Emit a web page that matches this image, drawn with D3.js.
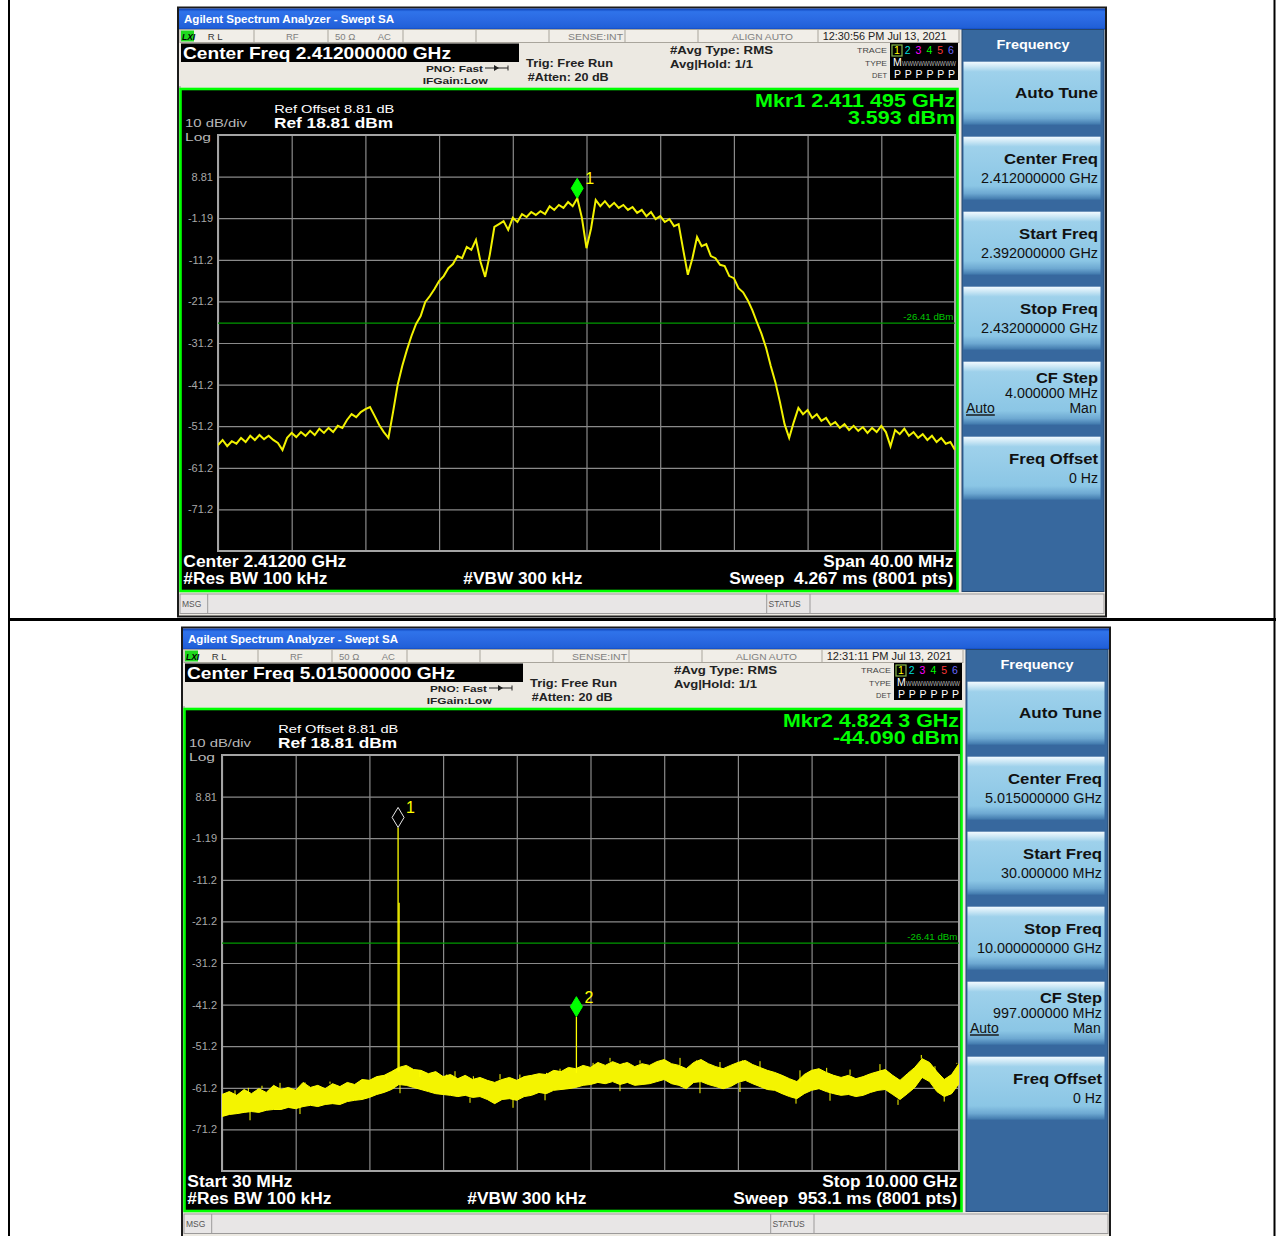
<!DOCTYPE html>
<html>
<head>
<meta charset="utf-8">
<script src="https://cdn.jsdelivr.net/npm/d3@7"></script>
<style>
  html, body { margin: 0; padding: 0; background: #fff; }
  svg { display: block; font-family: "Liberation Sans", Arial, sans-serif; }
  svg text { white-space: pre; }
</style>
</head>
<body>
<svg id="chart" width="1276" height="1236"></svg>
<script>
// ---------------------------------------------------------------
// data read off the two analyzer screens
// ---------------------------------------------------------------

// graticule: 10 dB/div, top line is the reference level
const refLevel = 18.81;
const dbPerDiv = 10;
const displayLine = -26.41;
const yTickLabels = ['8.81', '-1.19', '-11.2', '-21.2', '-31.2', '-41.2', '-51.2', '-61.2', '-71.2'];

// screen 1 : 2392 .. 2432 MHz, one reading every 0.25 MHz (dBm)
const p1Span = [2392, 2432];
const p1Step = 0.25;
const p1Level = [
  -55.7, -54.5, -56.0, -54.8, -55.4, -54.0, -55.0, -53.5, -54.5, -53.3,
  -54.3, -53.5, -54.5, -55.2, -56.9, -54.0, -52.8, -53.8, -52.6, -53.5,
  -52.3, -53.3, -51.8, -52.8, -51.6, -52.6, -51.1, -51.6, -49.7, -48.3,
  -49.0, -47.8, -47.1, -46.6, -48.7, -50.9, -52.6, -54.0, -47.8, -41.3,
  -36.7, -32.9, -29.5, -26.6, -24.7, -21.3, -19.9, -18.2, -16.3, -15.1,
  -13.2, -12.2, -10.3, -10.8, -8.1, -8.8, -6.4, -11.7, -15.3, -10.0,
  -3.3, -2.6, -1.9, -4.0, -1.1, -2.1, -0.2, -0.9, 0.3, -0.4,
  0.5, -0.2, 1.7, 0.8, 2.0, 1.3, 2.7, 1.7, 3.6, -1.1,
  -8.4, -3.6, 3.2, 1.7, 2.9, 1.5, 2.5, 1.3, 2.0, 0.8,
  1.5, 0.1, 0.8, -0.7, 0.3, -1.4, -0.7, -2.1, -1.4, -3.1,
  -2.6, -8.8, -14.8, -10.8, -5.7, -7.9, -7.4, -10.3, -10.8, -12.4,
  -12.7, -15.1, -15.6, -18.0, -19.0, -20.9, -23.3, -26.2, -29.0, -32.4,
  -36.7, -40.6, -45.4, -50.7, -54.0, -50.2, -46.8, -48.3, -47.3, -49.2,
  -48.3, -49.9, -49.2, -50.9, -50.2, -51.6, -50.7, -52.1, -51.1, -52.3,
  -51.4, -52.8, -51.6, -52.6, -51.1, -52.6, -56.0, -52.1, -53.1, -51.8,
  -53.5, -52.6, -54.0, -53.1, -54.5, -53.5, -55.0, -54.0, -55.4, -55.0,
  -56.9
];
const p1MarkerFreq = [2411.495];
const p1MarkerLevel = [3.593];

// screen 2 : 0.03 .. 10 GHz, 101 readings of the noise band (top / bottom edge, dBm)
const p2Span = [0.03, 10.0];
const p2Upper = [
  -62.8, -62.1, -63.0, -61.6, -62.6, -61.4, -62.3, -60.6, -61.6, -61.1,
  -61.8, -59.9, -61.1, -60.6, -61.4, -60.2, -60.9, -59.9, -60.4, -59.2,
  -59.4, -58.5, -58.2, -57.3, -56.3, -55.8, -56.8, -57.0, -57.8, -57.3,
  -58.5, -58.0, -59.0, -58.2, -59.2, -58.7, -59.4, -59.9, -59.2, -58.7,
  -59.4, -58.5, -58.2, -57.8, -58.0, -57.0, -57.3, -56.3, -56.6, -55.8,
  -56.3, -55.1, -55.8, -54.9, -55.6, -55.1, -56.1, -55.4, -55.8, -54.9,
  -54.4, -55.4, -55.8, -56.6, -55.1, -54.4, -55.4, -56.1, -56.6, -55.8,
  -55.1, -54.6, -55.6, -56.3, -57.0, -57.5, -58.2, -59.0, -59.7, -58.0,
  -57.0, -56.6, -57.5, -58.2, -58.7, -58.2, -59.0, -58.5, -57.8, -57.3,
  -56.8, -58.2, -59.4, -57.8, -56.3, -54.2, -55.1, -57.3, -59.2, -58.0,
  -55.4
];
const p2Lower = [
  -68.1, -67.6, -67.4, -67.1, -66.9, -67.1, -66.6, -66.4, -66.4, -65.9,
  -66.2, -65.7, -65.4, -65.7, -65.2, -65.0, -65.2, -64.5, -64.2, -64.0,
  -63.5, -62.8, -62.3, -61.6, -60.4, -60.6, -61.1, -61.6, -62.1, -62.6,
  -62.8, -63.0, -63.3, -63.0, -63.5, -63.3, -64.0, -65.0, -64.0, -63.8,
  -64.2, -63.3, -63.0, -62.3, -62.6, -61.8, -61.6, -61.4, -61.1, -60.6,
  -60.4, -59.9, -60.2, -59.7, -60.4, -59.9, -60.6, -60.4, -60.2, -59.7,
  -59.2, -60.2, -60.6, -61.4, -59.9, -59.7, -60.4, -60.9, -61.4, -60.9,
  -59.9, -59.4, -60.2, -60.9, -61.6, -61.8, -62.6, -63.3, -63.8, -62.6,
  -61.8, -61.4, -62.1, -62.6, -63.0, -62.8, -63.3, -63.0, -62.3, -61.8,
  -61.6, -62.8, -64.0, -62.6, -61.1, -58.7, -59.7, -62.1, -63.3, -62.6,
  -60.2
];
// noise hairs poking out above the band (GHz, dBm)
const p2HairFreq = [0.206, 0.386, 0.571, 0.815, 1.153, 1.491, 1.694, 1.965, 2.258, 2.708, 3.07, 3.182,
  3.43, 3.791, 4.06, 4.42, 4.603, 5.05, 5.279, 5.46, 5.685, 6.00, 6.226, 6.45, 6.767, 7.07, 7.308,
  7.849, 8.21, 8.526, 8.931, 9.49, 9.675, 9.97];
const p2HairLevel = [-61.8, -61.2, -60.7, -60.0, -60.4, -59.7, -59.9, -59.2, -59.2, -58.6, -58.0, -57.2,
  -58.4, -57.9, -58.0, -57.6, -56.6, -55.2, -54.0, -55.2, -54.6, -54.4, -54.0, -54.6, -55.0, -55.2, -54.8,
  -57.0, -56.4, -56.8, -55.5, -53.3, -56.0, -55.2];
// noise hairs hanging below the band
const p2DipFreq = [0.409, 1.085, 2.438, 3.385, 3.967, 4.40, 5.414, 6.496, 7.037, 7.795, 8.255, 9.175, 9.80];
const p2DipLevel = [-69.0, -67.5, -62.5, -64.8, -66.0, -64.2, -62.0, -62.5, -62.2, -65.0, -64.3, -65.3, -64.5];
// discrete spurs (GHz, dBm)
const p2SpurFreq = [2.412, 2.4255, 4.8243];
const p2SpurLevel = [1.4, -16.7, -44.09];
const p2MarkerFreq = [2.412, 4.8243];
const p2MarkerLevel = [1.4, -44.09];

// annotation text of each screen
const p1Time = '12:30:56 PM Jul 13, 2021';
const p2Time = '12:31:11 PM Jul 13, 2021';
const p1Center = 'Center Freq 2.412000000 GHz';
const p2Center = 'Center Freq 5.015000000 GHz';
const p1Readout = ['Mkr1 2.411 495 GHz', '3.593 dBm'];
const p2Readout = ['Mkr2 4.824 3 GHz', '-44.090 dBm'];
const p1Footer = ['Center 2.41200 GHz', 'Span 40.00 MHz', 'Sweep  4.267 ms (8001 pts)'];
const p2Footer = ['Start 30 MHz', 'Stop 10.000 GHz', 'Sweep  953.1 ms (8001 pts)'];
const p1Keys = [['Auto Tune'], ['Center Freq', '2.412000000 GHz'], ['Start Freq', '2.392000000 GHz'],
  ['Stop Freq', '2.432000000 GHz'], ['CF Step', '4.000000 MHz'], ['Freq Offset', '0 Hz']];
const p2Keys = [['Auto Tune'], ['Center Freq', '5.015000000 GHz'], ['Start Freq', '30.000000 MHz'],
  ['Stop Freq', '10.000000000 GHz'], ['CF Step', '997.000000 MHz'], ['Freq Offset', '0 Hz']];

// ---------------------------------------------------------------
// drawing
// ---------------------------------------------------------------

// the screenshots are stretched sideways, so most strings get a fixed width
const textWidth = new Map([
  ['Agilent Spectrum Analyzer - Swept SA', 210],
  ['Center Freq 2.412000000 GHz', 268], ['Center Freq 5.015000000 GHz', 268],
  ['12:30:56 PM Jul 13, 2021', 124], ['12:31:11 PM Jul 13, 2021', 125],
  ['Mkr1 2.411 495 GHz', 200], ['3.593 dBm', 107], ['Mkr2 4.824 3 GHz', 176], ['-44.090 dBm', 126],
  ['Center 2.41200 GHz', 163], ['Span 40.00 MHz', 130], ['Start 30 MHz', 105], ['Stop 10.000 GHz', 135],
  ['Sweep  4.267 ms (8001 pts)', 224], ['Sweep  953.1 ms (8001 pts)', 224],
  ['#Res BW 100 kHz', 144], ['#VBW 300 kHz', 119],
  ['Ref Offset 8.81 dB', 120], ['Ref 18.81 dBm', 119], ['10 dB/div', 62], ['Log', 26],
  ['PNO: Fast', 57], ['IFGain:Low', 65], ['Trig: Free Run', 87], ['#Atten: 20 dB', 81],
  ['#Avg Type: RMS', 103], ['Avg|Hold: 1/1', 83], ['SENSE:INT', 55], ['ALIGN AUTO', 61],
  ['Frequency', 73], ['Auto Tune', 83], ['Center Freq', 94], ['Start Freq', 79], ['Stop Freq', 78],
  ['CF Step', 62], ['Freq Offset', 89],
  ['2.412000000 GHz', 117], ['2.392000000 GHz', 117], ['2.432000000 GHz', 117], ['4.000000 MHz', 93],
  ['0 Hz', 29], ['5.015000000 GHz', 117], ['30.000000 MHz', 101], ['10.000000000 GHz', 125],
  ['997.000000 MHz', 109], ['-26.41 dBm', 50], ['TRACE', 30], ['TYPE', 22], ['DET', 15],
]);

const svg = d3.select('#chart');
const defs = svg.append('defs');

function gradient(id, stops) {
  const lg = defs.append('linearGradient').attr('id', id)
    .attr('x1', 0).attr('y1', 0).attr('x2', 0).attr('y2', 1);
  stops.forEach(([o, c]) => lg.append('stop').attr('offset', o).attr('stop-color', c));
}
gradient('titleGrad', [[0, '#0b3fb6'], [0.15, '#2f73ea'], [0.55, '#2a69e2'], [0.9, '#2160d8'], [1, '#0e47c0']]);
gradient('keyGrad', [[0, '#f2faff'], [0.07, '#cfe9f6'], [0.16, '#9ed1eb'], [0.78, '#8bc6e5'], [0.9, '#6ea9d2'], [1, '#3f77ab']]);

// put a string, squeezed to the measured width when we have one
function put(g, str, x, y, o = {}) {
  const t = g.append('text')
    .attr('x', x).attr('y', y)
    .attr('font-size', o.size || 11)
    .attr('font-weight', o.bold ? 'bold' : 'normal')
    .attr('fill', o.fill || '#000')
    .attr('text-anchor', o.anchor || 'start')
    .text(str);
  const w = textWidth.get(str);
  if (w) t.attr('textLength', w).attr('lengthAdjust', 'spacingAndGlyphs');
  return t;
}

function rect(g, x, y, w, h, fill, stroke, sw) {
  return g.append('rect').attr('x', x).attr('y', y).attr('width', w).attr('height', h)
    .attr('fill', fill).attr('stroke', stroke || 'none').attr('stroke-width', sw || 1);
}

function vline(g, x, y1, y2, c, w) {
  g.append('line').attr('x1', x).attr('x2', x).attr('y1', y1).attr('y2', y2)
    .attr('stroke', c).attr('stroke-width', w || 1);
}

// plot box inside each screen (local coordinates)
const PL = 40, PR = 777, PT = 127.5, PB = 543.5;

function drawScreen(cfg) {
  const g = svg.append('g').attr('transform', `translate(${cfg.ox},${cfg.oy})`);

  // window frame + title bar
  rect(g, 0, 0, 928, cfg.h, '#ece9e2', '#1b1b1b', 2);
  rect(g, 1, 1, 926, 21, 'url(#titleGrad)');
  put(g, 'Agilent Spectrum Analyzer - Swept SA', 6, 15, { size: 10.5, bold: true, fill: '#fff' });

  // status row
  rect(g, 2, 22, 779, 13, '#f1eee8', '#a9a59c', 1);
  [76, 150, 225, 298, 371, 447, 520, 640].forEach(x => vline(g, x, 22, 35, '#a9a59c'));
  rect(g, 3, 23, 13, 11, '#1ed81e');
  put(g, 'LXI', 4, 32, { size: 8.5, bold: true }).attr('font-style', 'italic');
  put(g, 'R L', 29.7, 32, { size: 9.5, fill: '#333' });
  put(g, 'RF', 108, 32, { size: 9.5, fill: '#808080' });
  put(g, '50 \u03A9', 157, 32, { size: 9.5, fill: '#808080' });
  put(g, 'AC', 199.7, 32, { size: 9.5, fill: '#808080' });
  put(g, 'SENSE:INT', 445, 32, { size: 9.5, fill: '#808080', anchor: 'end' });
  put(g, 'ALIGN AUTO', 615, 32, { size: 9.5, fill: '#808080', anchor: 'end' });
  put(g, cfg.time, 644.7, 32, { size: 10, fill: '#222' });

  // centre frequency banner and setup info
  rect(g, 3, 36, 338, 18.5, '#000');
  put(g, cfg.center, 5, 51, { size: 16.5, bold: true, fill: '#fff' });
  put(g, 'PNO: Fast', 248, 64, { size: 9.5, bold: true, fill: '#222' });
  g.append('line').attr('x1', 307).attr('x2', 330).attr('y1', 60.5).attr('y2', 60.5).attr('stroke', '#222');
  g.append('path').attr('d', 'M316,57.5 L321,60.5 L316,63.5 Z').attr('fill', '#222');
  vline(g, 330, 58, 63, '#222');
  put(g, 'IFGain:Low', 244.7, 76.5, { size: 9.5, bold: true, fill: '#222' });
  put(g, 'Trig: Free Run', 348, 59.5, { size: 11.5, bold: true, fill: '#222' });
  put(g, '#Atten: 20 dB', 349.7, 73.5, { size: 11.5, bold: true, fill: '#222' });
  put(g, '#Avg Type: RMS', 492, 46.5, { size: 11.5, bold: true, fill: '#222' });
  put(g, 'Avg|Hold: 1/1', 492, 60, { size: 11.5, bold: true, fill: '#222' });

  // trace legend box
  put(g, 'TRACE', 709, 45.5, { size: 8, fill: '#444', anchor: 'end' });
  put(g, 'TYPE', 709, 58, { size: 8, fill: '#444', anchor: 'end' });
  put(g, 'DET', 709, 70.5, { size: 8, fill: '#444', anchor: 'end' });
  rect(g, 712, 35.5, 68, 37, '#000');
  rect(g, 714, 37.5, 10, 11, 'none', '#86b84a', 1.2);
  const traceColors = ['#ffff00', '#00dede', '#ff00ff', '#00ff00', '#ff3838', '#6a6aff'];
  traceColors.forEach((c, i) => {
    put(g, String(i + 1), 716 + i * 10.8, 46.5, { size: 10.5, fill: c });
    put(g, 'P', 716 + i * 10.8, 70.5, { size: 10.5, fill: '#fff' });
  });
  put(g, 'M', 715, 58.5, { size: 10.5, fill: '#fff' });
  g.append('text').attr('x', 724).attr('y', 58).attr('font-size', 7).attr('fill', '#b8b8b8')
    .attr('textLength', 54).attr('lengthAdjust', 'spacingAndGlyphs').text('WWWWWWWWWW');

  // instrument screen
  vline(g, 2, 78.5, 80.5, '#999');
  rect(g, 2.5, 81.5, 777, 502, '#000', '#00ff00', 2.6);

  put(g, '10 dB/div', 7, 119.5, { size: 11.5, fill: '#b8b8b8' });
  put(g, 'Log', 7, 133, { size: 11.5, fill: '#b8b8b8' });
  put(g, 'Ref Offset 8.81 dB', 96.3, 105.5, { size: 11.5, fill: '#fff' });
  put(g, 'Ref 18.81 dBm', 96, 120, { size: 14, bold: true, fill: '#fff' });
  put(g, cfg.readout[0], 777, 99, { size: 17.5, bold: true, fill: '#00ff00', anchor: 'end' });
  put(g, cfg.readout[1], 777, 116.5, { size: 17.5, bold: true, fill: '#00ff00', anchor: 'end' });

  const x = d3.scaleLinear().domain(cfg.span).range([PL, PR]);
  const y = d3.scaleLinear().domain([refLevel - 10 * dbPerDiv, refLevel]).range([PB, PT]);

  // graticule
  const xDivs = d3.range(11).map(k => cfg.span[0] + k * (cfg.span[1] - cfg.span[0]) / 10);
  const yDivs = d3.range(11).map(k => refLevel - k * dbPerDiv);
  g.append('g').attr('transform', `translate(0,${PB})`)
    .call(d3.axisBottom(x).tickValues(xDivs).tickSize(-(PB - PT)).tickFormat(''))
    .call(a => {
      a.select('.domain').remove();
      a.selectAll('line').attr('stroke', '#8a8a8a').attr('stroke-width', 1.2);
    });
  g.append('g').attr('transform', `translate(${PL},0)`)
    .call(d3.axisLeft(y).tickValues(yDivs).tickSize(-(PR - PL)).tickPadding(5)
      .tickFormat((d, i) => (i > 0 && i < 10 ? yTickLabels[i - 1] : '')))
    .call(a => {
      a.select('.domain').remove();
      a.attr('font-family', null).attr('font-size', 11);
      a.selectAll('line').attr('stroke', '#8a8a8a').attr('stroke-width', 1.2);
      a.selectAll('text').attr('fill', '#a8a8a8');
    });
  rect(g, PL, PT, PR - PL, PB - PT, 'none', '#a4a4a4', 2);

  // display line
  g.append('line').attr('x1', PL).attr('x2', PR).attr('y1', y(displayLine)).attr('y2', y(displayLine))
    .attr('stroke', '#009a00').attr('stroke-width', 1.1);
  put(g, '-26.41 dBm', 775.3, y(displayLine) - 3, { size: 9, fill: '#00c800', anchor: 'end' });

  // footer annotations
  put(g, cfg.footer[0], 5.3, 559, { size: 16, bold: true, fill: '#fff' });
  put(g, '#Res BW 100 kHz', 5.3, 576.5, { size: 16, bold: true, fill: '#fff' });
  put(g, '#VBW 300 kHz', 285.3, 576.5, { size: 16, bold: true, fill: '#fff' });
  put(g, cfg.footer[1], 775.3, 559, { size: 16, bold: true, fill: '#fff', anchor: 'end' });
  put(g, cfg.footer[2], 775.3, 576.5, { size: 16, bold: true, fill: '#fff', anchor: 'end' });

  // message bar
  rect(g, 2, 586.5, 924, 19.5, '#e8e6e6', '#9c9a9a', 1);
  vline(g, 29.7, 586.5, 606, '#9c9a9a');
  vline(g, 588.7, 586.5, 606, '#9c9a9a');
  vline(g, 632, 586.5, 606, '#9c9a9a');
  put(g, 'MSG', 4, 599.5, { size: 8.5, fill: '#555' });
  put(g, 'STATUS', 590.5, 599.5, { size: 8.5, fill: '#555' });

  // soft key panel
  rect(g, 784, 22, 142, 562, '#37689e', '#24466e', 1);
  put(g, 'Frequency', 855, 41.5, { size: 13, bold: true, fill: '#fff', anchor: 'middle' });
  cfg.keys.forEach((k, i) => {
    const top = 54.2 + i * 75;
    rect(g, 785.5, top, 137, 63, 'url(#keyGrad)');
    if (k.length === 1) {
      put(g, k[0], 920, top + 36, { size: 15, bold: true, fill: '#111', anchor: 'end' });
    } else if (k[0] === 'CF Step') {
      put(g, k[0], 920, top + 21.6, { size: 15, bold: true, fill: '#111', anchor: 'end' });
      put(g, k[1], 920, top + 36.6, { size: 14, fill: '#111', anchor: 'end' });
      put(g, 'Auto', 788, top + 51.6, { size: 14, fill: '#111' }).attr('text-decoration', 'underline');
      put(g, 'Man', 918.7, top + 51.6, { size: 14, fill: '#111', anchor: 'end' });
    } else {
      put(g, k[0], 920, top + 27, { size: 15, bold: true, fill: '#111', anchor: 'end' });
      put(g, k[1], 920, top + 46.3, { size: 14, fill: '#111', anchor: 'end' });
    }
  });

  // trace layer, clipped to the graticule
  const clipId = `clip${cfg.id}`;
  defs.append('clipPath').attr('id', clipId).append('rect')
    .attr('x', PL).attr('y', PT).attr('width', PR - PL).attr('height', PB - PT);
  const layer = g.append('g').attr('clip-path', `url(#${clipId})`);
  cfg.drawTrace(layer, x, y);

  // markers: diamond sits on the trace, number to its upper right
  cfg.markers.forEach(m => {
    const mx = x(m.freq), my = y(m.level);
    g.append('path').attr('d', `M${mx},${my} L${mx - 6},${my - 10} L${mx},${my - 20} L${mx + 6},${my - 10} Z`)
      .attr('fill', m.active ? '#00ff00' : '#000')
      .attr('stroke', m.active ? '#00ff00' : '#e8e8e8').attr('stroke-width', 1);
    put(g, String(m.n), mx + 8, my - 14, { size: 16, fill: '#ffff00' });
  });
}

// ---------------------------------------------------------------
// page: two table cells, one screenshot in each
// ---------------------------------------------------------------
drawScreen({
  id: 1, ox: 178, oy: 7.5, h: 609,
  time: p1Time, center: p1Center, readout: p1Readout, footer: p1Footer, keys: p1Keys,
  span: p1Span,
  markers: p1MarkerFreq.map((f, i) => ({ n: 1, freq: f, level: p1MarkerLevel[i], active: true })),
  drawTrace(layer, x, y) {
    const pts = p1Level.map((v, i) => [p1Span[0] + i * p1Step, v]);
    layer.append('path').datum(pts)
      .attr('d', d3.line().x(d => x(d[0])).y(d => y(d[1])))
      .attr('fill', 'none').attr('stroke', '#f2f200').attr('stroke-width', 2)
      .attr('stroke-linejoin', 'miter');
  },
});

drawScreen({
  id: 2, ox: 182, oy: 627.5, h: 620,
  time: p2Time, center: p2Center, readout: p2Readout, footer: p2Footer, keys: p2Keys,
  span: p2Span,
  markers: p2MarkerFreq.map((f, i) => ({ n: i + 1, freq: f, level: p2MarkerLevel[i], active: i === 1 })),
  drawTrace(layer, x, y) {
    const n = p2Upper.length;
    const freq = p2Upper.map((_, i) => p2Span[0] + i * (p2Span[1] - p2Span[0]) / (n - 1));
    const nearest = f => Math.max(0, Math.min(n - 1, d3.bisectCenter(freq, f)));
    layer.append('path').datum(p2Upper)
      .attr('d', d3.area().x((d, i) => x(freq[i])).y0((d, i) => y(p2Lower[i])).y1(d => y(d)))
      .attr('fill', '#f4f400').attr('stroke', '#ffff00').attr('stroke-width', 1);
    const hair = (f, from, to, w) => layer.append('line')
      .attr('x1', x(f)).attr('x2', x(f)).attr('y1', y(from)).attr('y2', y(to))
      .attr('stroke', '#ffff00').attr('stroke-width', w);
    p2HairFreq.forEach((f, i) => hair(f, p2Upper[nearest(f)], p2HairLevel[i], 1));
    p2DipFreq.forEach((f, i) => hair(f, p2Lower[nearest(f)], p2DipLevel[i], 1));
    p2SpurFreq.forEach((f, i) => hair(f, p2Upper[nearest(f)] - 1, p2SpurLevel[i], 1.3));
  },
});

// table rules around the two cells
svg.append('line').attr('x1', 9).attr('x2', 9).attr('y1', 0).attr('y2', 1236).attr('stroke', '#000').attr('stroke-width', 2);
svg.append('line').attr('x1', 1274.5).attr('x2', 1274.5).attr('y1', 0).attr('y2', 1236).attr('stroke', '#000').attr('stroke-width', 2);
svg.append('line').attr('x1', 8).attr('x2', 1276).attr('y1', 619.5).attr('y2', 619.5).attr('stroke', '#000').attr('stroke-width', 3);
</script>
</body>
</html>
